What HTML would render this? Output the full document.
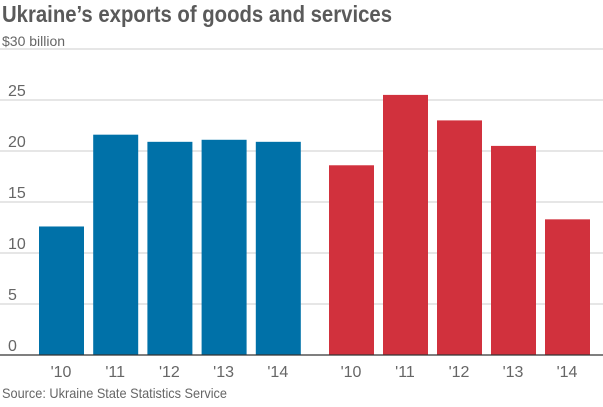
<!DOCTYPE html>
<html><head><meta charset="utf-8"><style>
body{margin:0;background:#fff;width:603px;height:402px;overflow:hidden;font-family:"Liberation Sans",sans-serif}
</style></head><body>
<svg id="chart" width="603" height="402" xmlns="http://www.w3.org/2000/svg">
<text x="2" y="22" font-size="23" font-weight="bold" fill="#5a5a5a" font-family="Liberation Sans Narrow, Liberation Sans, sans-serif" textLength="390" lengthAdjust="spacingAndGlyphs">Ukraine’s exports of goods and services</text>
<text x="2" y="46" font-size="14" fill="#666">$30 billion</text>
<text x="2" y="398" font-size="14" fill="#666" textLength="225" lengthAdjust="spacingAndGlyphs">Source: Ukraine State Statistics Service</text>
<g id="grid"></g><g id="bars"></g><g id="xlab"></g>
</svg>
<script>
const categories=["'10","'11","'12","'13","'14","'10","'11","'12","'13","'14"];
const goodsValues=[12.6,21.6,20.9,21.1,20.9];
const servicesValues=[18.6,25.5,23.0,20.5,13.3];
const yTicks=[0,5,10,15,20,25];
const NS="http://www.w3.org/2000/svg";
const y=v=>355-v*10.2;
const barX=i=>i<5?39+i*54.2:329+(i-5)*54;
function mk(t,a,p){const e=document.createElementNS(NS,t);for(const k in a)e.setAttribute(k,a[k]);p.appendChild(e);return e;}
const g=document.getElementById('grid'),b=document.getElementById('bars'),xl=document.getElementById('xlab');
[...yTicks,30].forEach(v=>{if(v===0)return;const l=mk('line',{x1:0,x2:603,y1:y(v),y2:y(v),stroke:'#ccc','stroke-width':1},g);

});
yTicks.forEach(v=>{const t=mk('text',{x:8,y:y(v)-4,'font-size':16,fill:'#666'},g);t.textContent=v;

});
const vals=[...goodsValues,...servicesValues];
vals.forEach((v,i)=>{const r=mk('rect',{x:barX(i),y:y(v),width:45,height:y(0)-y(v),fill:i<5?'#0071a8':'#d1313d'},b);


const t=mk('text',{x:barX(i)+22,y:377,'font-size':16,fill:'#666','text-anchor':'middle'},xl);t.textContent=categories[i];

});
const base=mk('line',{x1:0,x2:603,y1:y(0),y2:y(0),stroke:'#333','stroke-width':1.2},b);


</script>
</body></html>
